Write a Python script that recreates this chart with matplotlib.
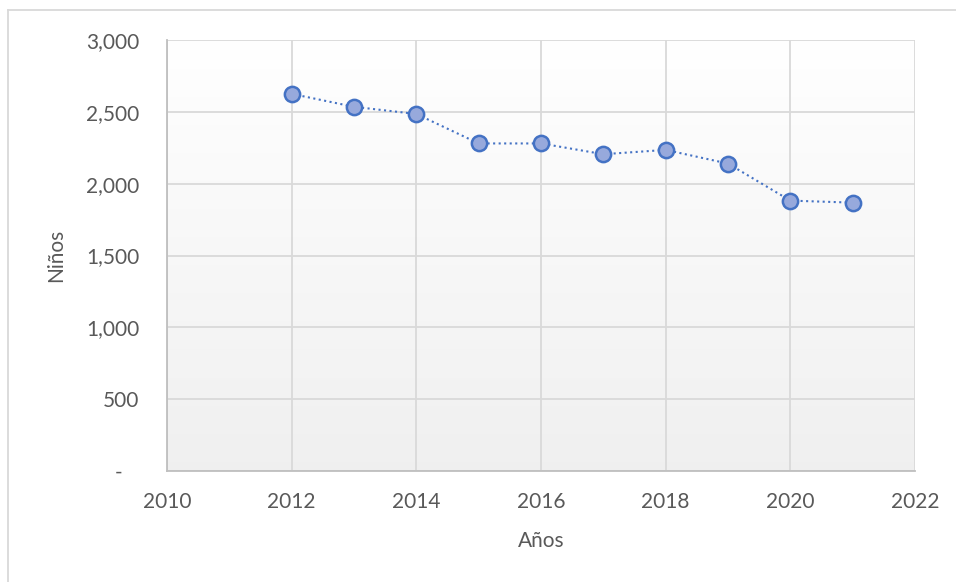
import matplotlib
matplotlib.use("Agg")
import matplotlib.pyplot as plt
import numpy as np
from matplotlib.lines import Line2D

years = [2012, 2013, 2014, 2015, 2016, 2017, 2018, 2019, 2020, 2021]
ninos = [2625, 2535, 2485, 2280, 2280, 2205, 2235, 2140, 1882, 1868]
xticks = [2010, 2012, 2014, 2016, 2018, 2020, 2022]
yticks = [0, 500, 1000, 1500, 2000, 2500, 3000]
ylabels = ["-   ", "500", "1,000", "1,500", "2,000", "2,500", "3,000"]

plt.rcParams['font.family'] = ['Lato', 'DejaVu Sans']
tc = '#595959'

fig = plt.figure(figsize=(9.56, 5.82), dpi=100)
ax = fig.add_axes([167/956, 1-471/582, (915-167)/956, (471-40)/582])

# gradient background
grad = np.linspace(1.0, 0.94, 256).reshape(-1, 1)
ax.imshow(np.dstack([grad, grad, grad]), extent=[0, 1, 0, 1], transform=ax.transAxes,
          aspect='auto', zorder=0, interpolation='bicubic')

ax.plot(years, ninos, linestyle=':', color='#4472c4', linewidth=1.5,
        marker='o', markersize=11, markerfacecolor='#97a9dc',
        markeredgecolor='#4472c4', markeredgewidth=1.8, zorder=3)

ax.set_xlim(2010, 2022)
ax.set_ylim(0, 3000)
ax.set_xticks(xticks)
ax.set_yticks(yticks)
ax.set_yticklabels(ylabels)
ax.grid(True, color='#d9d9d9', linewidth=1.3, zorder=1)
ax.set_axisbelow(True)
for s in ['top', 'right']:
    ax.spines[s].set_visible(False)
for s in ['left', 'bottom']:
    ax.spines[s].set_color('#bfbfbf')
    ax.spines[s].set_linewidth(1.3)
ax.tick_params(length=0, labelsize=15, colors=tc)
ax.tick_params(axis='x', pad=15)
ax.tick_params(axis='y', pad=20)
ax.set_xlabel('Años', fontsize=15, color=tc, labelpad=14)
ax.set_ylabel('Niños', fontsize=15, color=tc, labelpad=14)

# outer chart border (left and top visible)
fig.add_artist(Line2D([8/956, 8/956], [0, 1-10/582], transform=fig.transFigure, color='#d9d9d9', linewidth=1.3))
fig.add_artist(Line2D([8/956, 1], [1-10/582, 1-10/582], transform=fig.transFigure, color='#d9d9d9', linewidth=1.3))

fig.savefig('out.png', dpi=100)
